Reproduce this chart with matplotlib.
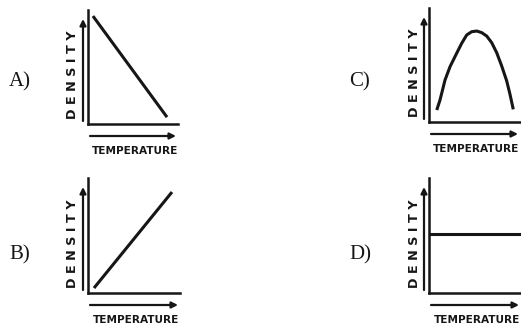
import matplotlib
matplotlib.use("Agg")
import matplotlib.pyplot as plt
from matplotlib import font_manager

W, H = 521, 327

# temperature / density on a 0-100 scale
temp_a = [5.5, 87.8]
dens_a = [94.7, 6.0]

temp_b = [6.5, 91.3]
dens_b = [4.3, 87.8]

temp_c = [8.5, 12.1, 17.6, 23.1, 30.4, 35.9, 41.4, 46.9, 52.4, 57.9,
          63.4, 68.9, 74.4, 79.9, 85.4, 89.0, 92.6]
dens_c = [10.5, 19.3, 36.8, 48.5, 60.3, 69.0, 76.3, 79.2, 79.8, 78.4,
          75.4, 69.6, 60.8, 49.1, 36.0, 24.3, 11.1]

temp_d = [0, 100]
dens_d = [51.3, 51.3]

letters = ["A)", "B)", "C)", "D)"]
x_label = "TEMPERATURE"
y_label = "DENSITY"

INK = "#161616"

# panel boxes in pixels (left, top, right, bottom), letter centres
PANELS = [
    ((88, 10, 178, 124), (20, 82)),
    ((88, 178, 180, 293), (20, 255)),
    ((429, 8, 520, 122), (360, 82)),
    ((429, 178, 521, 293), (360, 255)),
]
SERIES = [(temp_a, dens_a), (temp_b, dens_b), (temp_c, dens_c), (temp_d, dens_d)]

installed = {f.name for f in font_manager.fontManager.ttflist}
if "Liberation Sans Narrow" in installed:
    LAB_FONT, LAB_SIZE, Y_SIZE = "Liberation Sans Narrow", 9.6, 10.5
else:
    LAB_FONT, LAB_SIZE, Y_SIZE = "DejaVu Sans", 7.6, 9.2


def fx(x):
    return x / W


def fy(y):
    return 1 - y / H


def arrow(ax, x0, y0, x1, y1):
    ax.annotate("", xy=(fx(x1), fy(y1)), xytext=(fx(x0), fy(y0)),
                xycoords="figure fraction", textcoords="figure fraction",
                annotation_clip=False,
                arrowprops=dict(arrowstyle="-|>", color=INK, lw=1.6,
                                mutation_scale=9, shrinkA=0, shrinkB=0))


fig = plt.figure(figsize=(W / 100, H / 100), dpi=100)
fig.patch.set_facecolor("white")

for (box, let_pos), (tx, dy), letter in zip(PANELS, SERIES, letters):
    l, t, r, b = box
    ax = fig.add_axes([fx(l), fy(b), (r - l) / W, (b - t) / H])
    ax.plot(tx, dy, color=INK, lw=2.2, solid_capstyle="butt")
    ax.set_xlim(0, 100)
    ax.set_ylim(0, 100)
    ax.set_xticks([])
    ax.set_yticks([])
    for side in ["top", "right"]:
        ax.spines[side].set_visible(False)
    for side in ["left", "bottom"]:
        ax.spines[side].set_linewidth(1.8)
        ax.spines[side].set_color(INK)
    ax.patch.set_alpha(0)

    # arrows beside the axes
    arrow(ax, l - 5, b - 3, l - 5, t + 9)
    arrow(ax, l + 2, b + 12, r - 2, b + 12)

    fig.text(fx((l + r) / 2 + 2), fy(b + 27), x_label, ha="center", va="center",
             family=LAB_FONT, fontsize=LAB_SIZE, fontweight="bold", color=INK)
    fig.text(fx(l - 15), fy((t + b) / 2 + 8), " ".join(y_label), ha="center",
             va="center", rotation=90, family=LAB_FONT, fontsize=Y_SIZE,
             fontweight="bold", color=INK)
    fig.text(fx(let_pos[0]), fy(let_pos[1]), letter, ha="center", va="center",
             family="Liberation Serif", fontsize=15, color=INK)

fig.savefig("out.png", dpi=100, facecolor="white")
